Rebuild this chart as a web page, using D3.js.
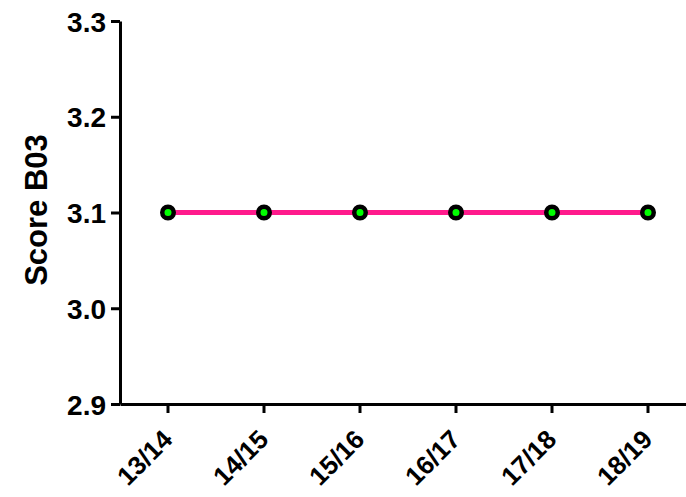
<!DOCTYPE html>
<html><head><meta charset="utf-8">
<script src="https://cdn.jsdelivr.net/npm/d3@7"></script>
<style>body{margin:0;background:#fff}svg{display:block}text{font-family:Arial,"Liberation Sans",sans-serif;font-weight:bold;fill:#000}</style>
</head><body><svg id="c" width="686" height="497"></svg>
<script>
const categories = ["13/14","14/15","15/16","16/17","17/18","18/19"];
const values = [3.1,3.1,3.1,3.1,3.1,3.1];
const yTicks = [2.9,3.0,3.1,3.2,3.3];
const yTitle = "Score B03";

const svg = d3.select("#c");
const x = d3.scaleBand().domain(categories).range([120,696]);
const y = d3.scaleLinear().domain([2.9,3.3]).range([404,21]);
const cx = d => x(d) + x.bandwidth()/2;

// y axis
const ya = svg.append("g").attr("transform","translate(120,0)")
  .call(d3.axisLeft(y).tickValues(yTicks).tickFormat(d3.format(".1f")).tickSize(9).tickSizeOuter(0));
ya.select(".domain").attr("stroke","#000").attr("stroke-width",3);
ya.selectAll(".tick line").attr("stroke","#000").attr("stroke-width",3);
ya.selectAll(".tick text").attr("font-size",28).attr("x",-14).attr("dy","0.36em");

// x axis
const xa = svg.append("g").attr("transform","translate(0,404)")
  .call(d3.axisBottom(x).tickSize(9).tickSizeOuter(0));
xa.select(".domain").attr("stroke","#000").attr("stroke-width",3);
xa.selectAll(".tick line").attr("stroke","#000").attr("stroke-width",3);
xa.selectAll(".tick text").attr("font-size",26)
  .attr("text-anchor","end").attr("y",0).attr("dy",0)
  .attr("transform","translate(6,37) rotate(-45)");

// title
svg.append("text").attr("transform","translate(47,210) rotate(-90)")
  .attr("text-anchor","middle").attr("font-size",31).text(yTitle);

// line
const data = categories.map((c,i)=>({c,v:values[i]}));
svg.append("path").datum(data)
  .attr("fill","none").attr("stroke","#ff1a8c").attr("stroke-width",5)
  .attr("d",d3.line().x(d=>cx(d.c)).y(d=>y(d.v)));
svg.selectAll("circle.m").data(data).join("circle").attr("class","m")
  .attr("cx",d=>cx(d.c)).attr("cy",d=>y(d.v)).attr("r",5.75)
  .attr("fill","#00ff00").attr("stroke","#000").attr("stroke-width",4.5);
</script></body></html>
